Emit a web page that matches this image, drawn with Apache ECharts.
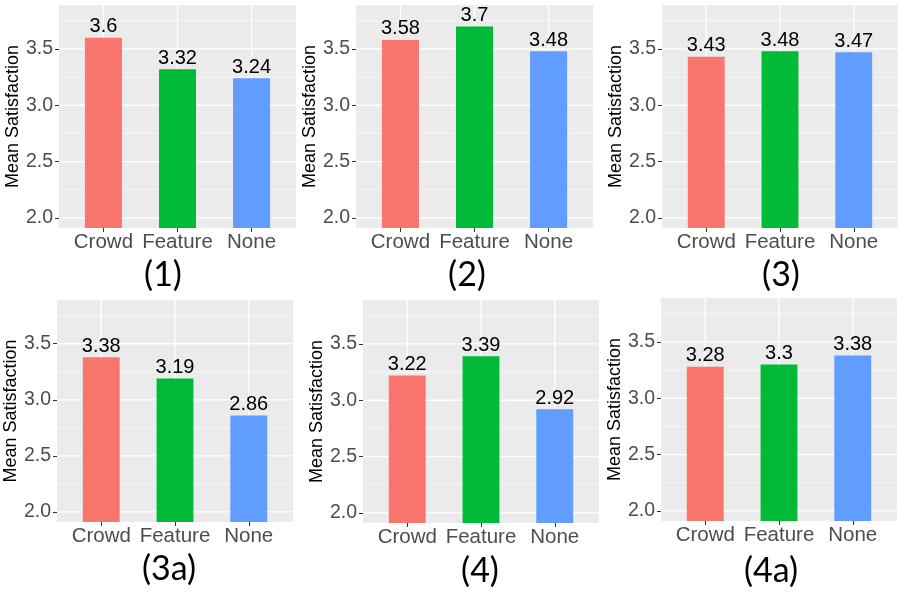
<!DOCTYPE html>
<html><head><meta charset="utf-8">
<script src="https://cdn.jsdelivr.net/npm/echarts@6/dist/echarts.min.js"></script>
<style>html,body{margin:0;padding:0;background:#fff}#c{width:906px;height:595px}</style>
</head><body><div id="c"></div>
<script>
// ---- data ----
const categories = ['Crowd', 'Feature', 'None'];
const panelTitles = ['(1)', '(2)', '(3)', '(3a)', '(4)', '(4a)'];
const values1  = [3.6, 3.32, 3.24];
const values2  = [3.58, 3.7, 3.48];
const values3  = [3.43, 3.48, 3.47];
const values3a = [3.38, 3.19, 2.86];
const values4  = [3.22, 3.39, 2.92];
const values4a = [3.28, 3.3, 3.38];
const yTicks = [2.0, 2.5, 3.0, 3.5];
const yMinor = [2.25, 2.75, 3.25, 3.75];
const yTitle = 'Mean Satisfaction';
const panelValues = [values1, values2, values3, values3a, values4, values4a];

// ---- styling / layout ----
const barColors = ['#F8766D', '#00BA38', '#619CFF'];
const layouts = [
  {left: 59,  top: 5,   width: 237, height: 223, tx: 163, ty: 275},
  {left: 356, top: 5,   width: 237, height: 223, tx: 467, ty: 275},
  {left: 662, top: 5,   width: 236, height: 223, tx: 781, ty: 275},
  {left: 57,  top: 300, width: 236, height: 222, tx: 169, ty: 569},
  {left: 363, top: 300, width: 236, height: 223, tx: 480, ty: 571},
  {left: 661, top: 298, width: 236, height: 223, tx: 771, ty: 571}
];
const xPos = categories.map((c, i) => i + 1);
const FONT = 'Liberation Sans, Arial, sans-serif';
const MAJOR_W = 1.3, MINOR_W = 0.6;

// grid line specs: [orientation (0 = horizontal, 1 = vertical), value, width]
const gridLineData = [
  ...yMinor.map(v => [0, v, MINOR_W]),
  ...yTicks.map(v => [0, v, MAJOR_W]),
  ...xPos.map(v => [1, v, MAJOR_W])
];

const grid = [], xAxis = [], yAxis = [], series = [], graphic = [];
layouts.forEach((L, i) => {
  grid.push({left: L.left, top: L.top, width: L.width, height: L.height,
    show: true, backgroundColor: '#EBEBEB', borderWidth: 0, containLabel: false, outerBoundsMode: 'none'});
  xAxis.push({
    gridIndex: i, type: 'value', min: 0.4, max: 3.6, minInterval: 1, maxInterval: 1,
    axisLine: {show: false},
    axisTick: {show: true, length: 4, customValues: xPos, lineStyle: {color: '#333333', width: 1}},
    axisLabel: {customValues: xPos, margin: 4, color: '#4D4D4D', fontSize: 20.5, fontFamily: FONT,
      formatter: v => (Math.abs(v - Math.round(v)) < 1e-6 && categories[Math.round(v) - 1]) || ''},
    splitLine: {show: false}, minorSplitLine: {show: false}
  });
  yAxis.push({
    gridIndex: i, type: 'value', min: 1.91, max: 3.89, minInterval: 0.5, maxInterval: 0.5,
    axisLine: {show: false},
    axisTick: {show: true, length: 4, customValues: yTicks, lineStyle: {color: '#333333', width: 1}},
    axisLabel: {customValues: yTicks, margin: 6, color: '#4D4D4D', fontSize: 19.5, fontFamily: FONT,
      formatter: v => yTicks.some(t => Math.abs(t - v) < 1e-6) ? v.toFixed(1) : ''},
    splitLine: {show: false},
    name: yTitle, nameLocation: 'middle', nameGap: 37, nameRotate: 90,
    nameTextStyle: {color: '#000', fontSize: 18, fontFamily: FONT}
  });
  // white panel grid lines, drawn behind the bars
  series.push({
    type: 'custom', xAxisIndex: i, yAxisIndex: i, z: 1, silent: true, animation: false,
    data: gridLineData,
    encode: {x: -1, y: -1},
    renderItem: (params, api) => {
      const cs = params.coordSys;
      const o = api.value(0), v = api.value(1), w = api.value(2);
      let shape;
      if (o === 0) {
        const y = api.coord([2, v])[1];
        shape = {x1: cs.x, y1: y, x2: cs.x + cs.width, y2: y};
      } else {
        const x = api.coord([v, 3])[0];
        shape = {x1: x, y1: cs.y, x2: x, y2: cs.y + cs.height};
      }
      return {type: 'line', shape, style: {stroke: '#FFFFFF', lineWidth: w}, silent: true};
    }
  });
  const vals = panelValues[i];
  series.push({
    type: 'bar', xAxisIndex: i, yAxisIndex: i, barWidth: '50%', animation: false, z: 2,
    data: vals.map((v, k) => ({value: [xPos[k], v], itemStyle: {color: barColors[k]}})),
    label: {show: true, position: 'top', distance: 1, color: '#000', fontSize: 20, fontFamily: FONT,
      formatter: p => String(p.value[1])}
  });
  graphic.push({type: 'text', x: L.tx, y: L.ty, silent: true,
    style: {text: panelTitles[i], fill: '#000', font: '34px Lato, "Open Sans", sans-serif',
      align: 'center', verticalAlign: 'middle', textAlign: 'center', textVerticalAlign: 'middle'}});
});

const chart = echarts.init(document.getElementById('c'), null, {renderer: 'canvas'});
chart.setOption({animation: false, backgroundColor: '#fff', grid, xAxis, yAxis, series, graphic});
</script>
</body></html>
